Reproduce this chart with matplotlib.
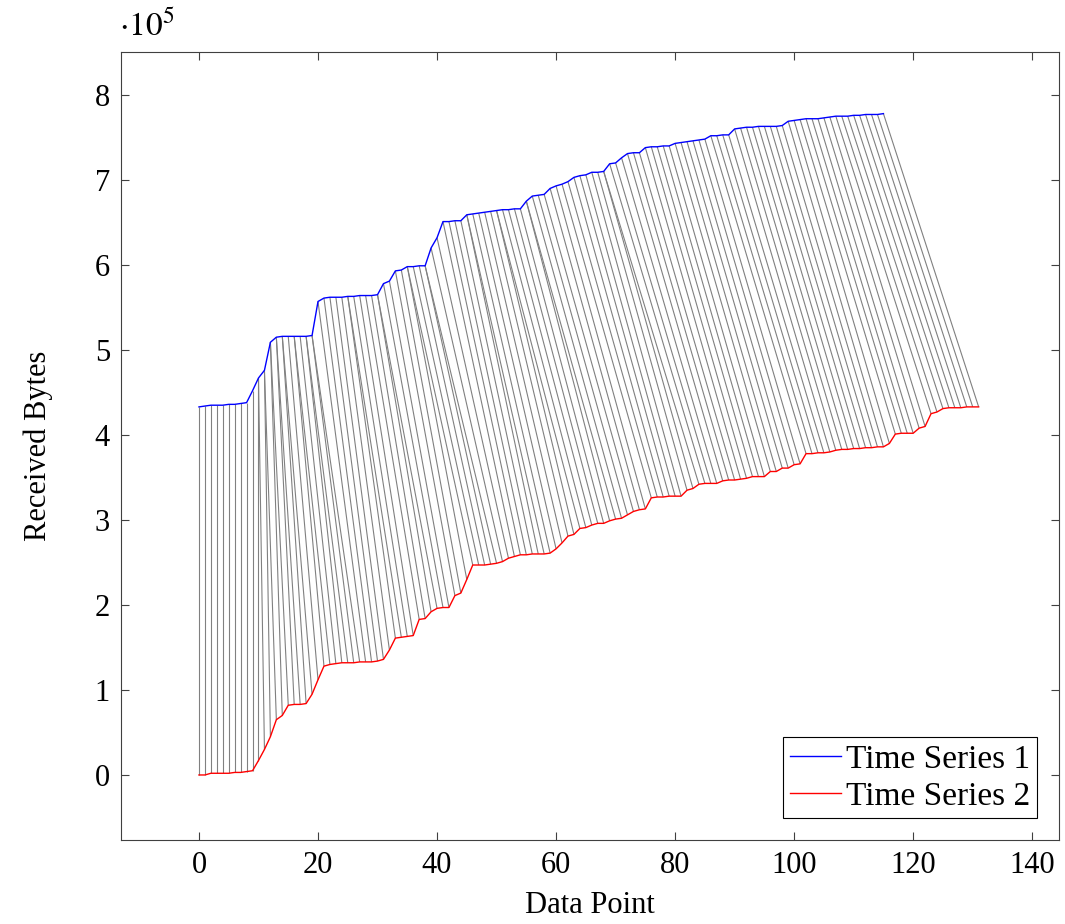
import matplotlib
matplotlib.use("Agg")
import matplotlib.pyplot as plt
from matplotlib.collections import LineCollection

# Values in units of 1e5 bytes
series1 = [4.33, 4.34, 4.35, 4.35, 4.35, 4.36, 4.36, 4.37, 4.38, 4.52,
           4.67, 4.76, 5.09, 5.15, 5.16, 5.16, 5.16, 5.16, 5.16, 5.17,
           5.57, 5.61, 5.62, 5.62, 5.62, 5.63, 5.63, 5.64, 5.64, 5.64,
           5.65, 5.78, 5.81, 5.93, 5.94, 5.98, 5.98, 5.99, 5.99, 6.20,
           6.32, 6.51, 6.51, 6.52, 6.52, 6.59, 6.60, 6.61, 6.62, 6.63,
           6.64, 6.65, 6.65, 6.66, 6.66, 6.75, 6.81, 6.82, 6.83, 6.90,
           6.93, 6.95, 6.98, 7.03, 7.05, 7.06, 7.09, 7.09, 7.10, 7.19,
           7.20, 7.26, 7.31, 7.32, 7.32, 7.38, 7.39, 7.39, 7.40, 7.40,
           7.43, 7.44, 7.45, 7.46, 7.47, 7.48, 7.52, 7.52, 7.53, 7.53,
           7.60, 7.61, 7.62, 7.62, 7.63, 7.63, 7.63, 7.63, 7.64, 7.69,
           7.70, 7.71, 7.72, 7.72, 7.72, 7.73, 7.74, 7.75, 7.75, 7.75,
           7.76, 7.76, 7.77, 7.77, 7.77, 7.78]

series2 = [0.00, 0.00, 0.02, 0.02, 0.02, 0.02, 0.03, 0.03, 0.04, 0.05,
           0.17, 0.30, 0.45, 0.65, 0.70, 0.82, 0.83, 0.83, 0.84, 0.95,
           1.12, 1.28, 1.30, 1.31, 1.32, 1.32, 1.32, 1.33, 1.33, 1.33,
           1.34, 1.36, 1.47, 1.61, 1.62, 1.63, 1.64, 1.83, 1.84, 1.92,
           1.96, 1.97, 1.97, 2.11, 2.14, 2.30, 2.47, 2.47, 2.47, 2.48,
           2.49, 2.51, 2.55, 2.57, 2.59, 2.59, 2.60, 2.60, 2.60, 2.61,
           2.66, 2.73, 2.81, 2.83, 2.90, 2.91, 2.94, 2.96, 2.96, 2.99,
           3.01, 3.02, 3.06, 3.10, 3.12, 3.13, 3.26, 3.27, 3.27, 3.28,
           3.28, 3.28, 3.35, 3.37, 3.42, 3.43, 3.43, 3.43, 3.46, 3.47,
           3.47, 3.48, 3.49, 3.51, 3.51, 3.51, 3.57, 3.57, 3.61, 3.61,
           3.65, 3.66, 3.78, 3.78, 3.79, 3.79, 3.80, 3.82, 3.83, 3.83,
           3.84, 3.84, 3.85, 3.85, 3.86, 3.86, 3.90, 4.01, 4.02, 4.02,
           4.02, 4.08, 4.10, 4.25, 4.27, 4.31, 4.32, 4.32, 4.32, 4.33,
           4.33, 4.33]

# indices of series 1 that are aligned with one extra point of series 2
repeat_points = [10, 11, 12, 13, 14, 16, 18, 19, 25, 30, 35, 38, 45, 50, 55, 68]

series_labels = ["Time Series 1", "Time Series 2"]
x_ticks = [0, 20, 40, 60, 80, 100, 120, 140]
y_ticks = [0, 1, 2, 3, 4, 5, 6, 7, 8]

# build alignment path
path = []
j = 0
for i in range(len(series1)):
    n = 1 + repeat_points.count(i)
    for _ in range(n):
        path.append((i, j))
        j += 1

plt.rcParams['font.family'] = ['Liberation Serif', 'DejaVu Serif']
plt.rcParams['mathtext.fontset'] = 'stix'

FS = 22

fig = plt.figure(figsize=(10.65, 9.24), dpi=100)
ax = fig.add_axes([121/1065, 84/924, 938/1065, 788/924])

segs = [[(i, series1[i]), (jj, series2[jj])] for i, jj in path]
lc = LineCollection(segs, colors='#808080', linewidths=0.8, zorder=1)
ax.add_collection(lc)

x1 = list(range(len(series1)))
x2 = list(range(len(series2)))
ax.plot(x1, series1, color='blue', lw=1.0, label=series_labels[0], zorder=3)
ax.plot(x2, series2, color='red', lw=1.0, label=series_labels[1], zorder=3)

ax.set_xlim(-13.1, 144.5)
ax.set_ylim(-0.765, 8.505)

ax.set_xticks(x_ticks)
ax.set_yticks(y_ticks)
ax.tick_params(direction='in', length=6, width=0.8, top=True, right=True,
               labelsize=FS, pad=8, color='#404040')
for s in ax.spines.values():
    s.set_linewidth(0.8)
    s.set_color('#404040')

ax.set_xlabel("Data Point", fontsize=FS, labelpad=8)
ax.set_ylabel("Received Bytes", fontsize=FS, labelpad=30)
fig.text(119/1065, 1 - 27/924, r"$\cdot10^5$", fontsize=24, ha='left', va='center')

leg = ax.legend(loc='lower right', fontsize=24, frameon=True, fancybox=False,
                framealpha=1, edgecolor='black', borderpad=0.2, handlelength=1.55,
                handletextpad=0.15, labelspacing=0.2, borderaxespad=0.65)
leg.get_frame().set_linewidth(0.8)

fig.savefig("out.png", dpi=100)
